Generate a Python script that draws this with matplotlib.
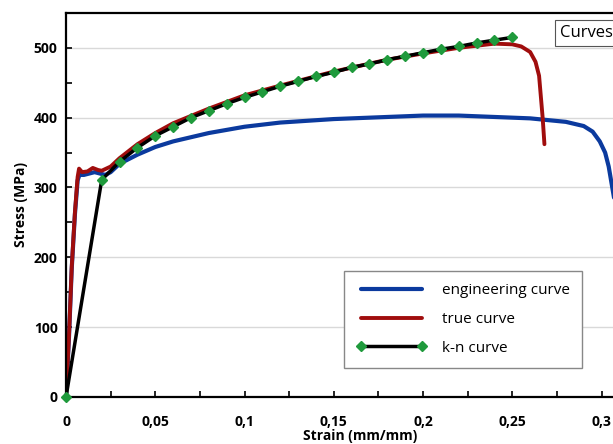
import matplotlib
matplotlib.use("Agg")
import matplotlib.pyplot as plt
from matplotlib.ticker import MultipleLocator, FixedLocator

plt.rcParams["font.family"] = ["Open Sans", "DejaVu Sans"]

# Engineering curve (blue)
eng_strain = [0, 0.0017, 0.0032, 0.0050, 0.0065, 0.0075, 0.010, 0.013, 0.016,
              0.019, 0.022, 0.025, 0.03, 0.04, 0.05, 0.06, 0.08, 0.10, 0.12,
              0.15, 0.18, 0.20, 0.22, 0.24, 0.26, 0.28, 0.29, 0.295, 0.299,
              0.302, 0.304, 0.306, 0.308]
eng_stress = [0, 88, 184, 262, 310, 318, 318, 320, 322, 320, 318, 322, 334,
              347, 358, 366, 378, 387, 393, 398, 401, 403, 403, 401, 399,
              394, 388, 380, 366, 350, 330, 300, 270]

# True curve (red)
true_strain = [0, 0.0017, 0.0032, 0.0050, 0.0065, 0.0073, 0.009, 0.012,
               0.015, 0.018, 0.020, 0.025, 0.03, 0.04, 0.05, 0.06, 0.08,
               0.10, 0.12, 0.15, 0.18, 0.20, 0.22, 0.24, 0.25, 0.255, 0.26,
               0.263, 0.265, 0.266, 0.267, 0.268]
true_stress = [0, 90, 186, 265, 315, 327, 322, 323, 328, 325, 324, 330, 342,
               362, 378, 392, 413, 432, 446, 466, 483, 492, 500, 506, 505,
               502, 494, 480, 460, 430, 400, 362]

# k-n curve (black line, green markers)
kn_strain = [0, 0.02, 0.03, 0.04, 0.05, 0.06, 0.07, 0.08, 0.09, 0.10, 0.11,
             0.12, 0.13, 0.14, 0.15, 0.16, 0.17, 0.18, 0.19, 0.20, 0.21,
             0.22, 0.23, 0.24, 0.25]
kn_stress = [0, 311, 337, 357, 374, 387, 400, 410, 420, 429, 437, 445, 452,
             459, 465, 472, 477, 483, 488, 493, 498, 502, 507, 511, 515]

x_ticks = [0, 0.05, 0.10, 0.15, 0.20, 0.25, 0.30]
x_tick_labels = ["0", "0,05", "0,1", "0,15", "0,2", "0,25", "0,3"]
y_ticks = [0, 100, 200, 300, 400, 500]

fig = plt.figure(figsize=(6.13, 4.44), dpi=100)
ax = fig.add_axes([0.1077, 0.1059, 0.961, 0.865])

ax.plot(eng_strain, eng_stress, color="#0b3a9e", linewidth=3,
        label="engineering curve", solid_capstyle="round")
ax.plot(true_strain, true_stress, color="#a00d0d", linewidth=2.8,
        label="true curve", solid_capstyle="round")
ax.plot(kn_strain, kn_stress, color="black", linewidth=2.5,
        marker="D", markersize=5.5, markerfacecolor="#1f9a3c",
        markeredgecolor="#1f9a3c", label="k-n curve", clip_on=False,
        zorder=4)

ax.set_xlim(0, 0.33)
ax.set_ylim(0, 550)

ax.xaxis.set_major_locator(FixedLocator(x_ticks))
ax.set_xticklabels(x_tick_labels)
ax.xaxis.set_minor_locator(MultipleLocator(0.025))
ax.yaxis.set_major_locator(FixedLocator(y_ticks))
ax.yaxis.set_minor_locator(MultipleLocator(50))

ax.tick_params(axis="both", which="both", direction="in", width=1.2)
ax.tick_params(axis="both", which="major", length=4, labelsize=10)
ax.tick_params(axis="both", which="minor", length=4)
ax.tick_params(axis="x", pad=13)
ax.tick_params(axis="y", pad=6)
for lbl in ax.get_xticklabels() + ax.get_yticklabels():
    lbl.set_fontweight("bold")

ax.grid(True, axis="y", color="#d9d9d9", linewidth=1)
ax.set_axisbelow(True)

for side in ["left", "bottom", "top"]:
    ax.spines[side].set_linewidth(1.6)
    ax.spines[side].set_color("black")
ax.spines["right"].set_visible(False)

ax.set_xlabel("Strain (mm/mm)", fontsize=10, fontweight="bold", labelpad=0)
ax.set_ylabel("Stress (MPa)", fontsize=10, fontweight="bold", labelpad=4)

leg = ax.legend(loc="upper left", bbox_to_anchor=(344 / 613, 1 - 271 / 444),
                bbox_transform=fig.transFigure, borderaxespad=0,
                fancybox=False, edgecolor="#888888", framealpha=1,
                fontsize=11, handlelength=4.6, numpoints=2,
                labelspacing=0.9, borderpad=0.8, handletextpad=1.0)
leg.get_frame().set_linewidth(1)

fig.text(560 / 613, 1 - 33 / 444, "Curves", fontsize=12, va="center",
         ha="left",
         bbox=dict(boxstyle="square,pad=0.3", facecolor="white",
                   edgecolor="#555555", linewidth=0.8))

fig.savefig("out.png", dpi=100)
